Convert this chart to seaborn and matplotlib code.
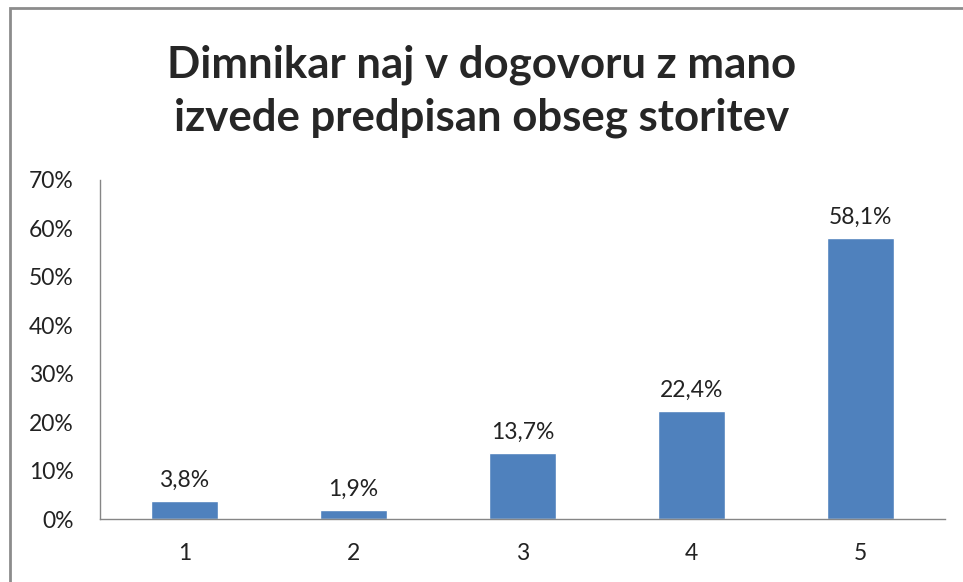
import matplotlib
matplotlib.use('Agg')
import matplotlib.pyplot as plt
import seaborn as sns
import pandas as pd
from matplotlib.patches import Rectangle
from matplotlib.ticker import FuncFormatter

categories = ['1', '2', '3', '4', '5']
shares = [3.8, 1.9, 13.7, 22.4, 58.1]
y_ticks = [0, 10, 20, 30, 40, 50, 60, 70]
title = 'Dimnikar naj v dogovoru z mano\nizvede predpisan obseg storitev'

sns.set_style('white')
plt.rcParams['font.family'] = ['Lato', 'DejaVu Sans']

df = pd.DataFrame({'odgovor': categories, 'delez': shares})

fig = plt.figure(figsize=(9.63, 5.82), dpi=100)
ax = fig.add_axes([100 / 963, 1 - 519 / 582, 845 / 963, 339 / 582])

sns.barplot(data=df, x='odgovor', y='delez', color='#4F81BD', width=0.4,
            saturation=1, ax=ax)

ax.set_ylim(0, 70)
ax.set_xlim(-0.5, 4.5)
ax.set_yticks(y_ticks)
ax.yaxis.set_major_formatter(FuncFormatter(lambda v, p: '{:.0f}%'.format(v)))
ax.set_xlabel('')
ax.set_ylabel('')
ax.tick_params(axis='both', labelsize=16.5, colors='#222222', length=0)
ax.tick_params(axis='y', pad=19)
ax.tick_params(axis='x', pad=17)

for s in ['top', 'right']:
    ax.spines[s].set_visible(False)
for s in ['left', 'bottom']:
    ax.spines[s].set_color('#868686')
    ax.spines[s].set_linewidth(1)

for i, v in enumerate(shares):
    ax.annotate('{:.1f}%'.format(v).replace('.', ','), (i, v),
                xytext=(0, 7), textcoords='offset points',
                ha='center', va='bottom', fontsize=16.5, color='#222222')

fig.text(0.5, 0.843, title, ha='center', va='center', fontsize=31.5,
         fontweight='bold', linespacing=1.4)

# chart border (cropped at right and bottom in the reference)
fig.patches.append(Rectangle((10 / 963, -0.1), 1.2, 1 - 8 / 582 + 0.1,
                             transform=fig.transFigure, fill=False,
                             edgecolor='#8c8c8c', linewidth=2))

fig.savefig('out.png', dpi=100)
